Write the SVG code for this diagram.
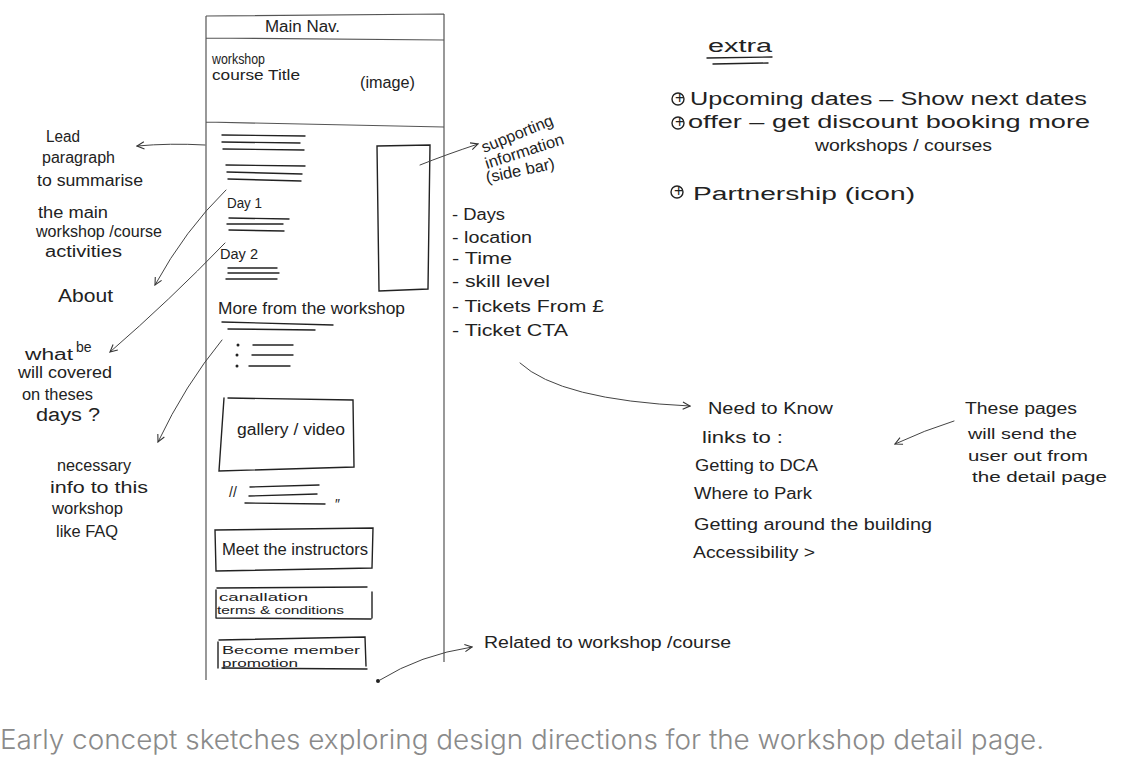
<svg xmlns="http://www.w3.org/2000/svg" width="1131" height="759" viewBox="0 0 1131 759">
<defs>
<style>
.h{font-family:"Liberation Sans","DejaVu Sans",sans-serif;font-size:16px;fill:#222}
.s{font-size:14px}
.t{font-size:11.5px}
.b{font-size:18px}
.ln{fill:none;stroke:#222;stroke-width:1.4;stroke-linecap:round}
.fr{fill:none;stroke:#555;stroke-width:1.2}
.ar{fill:none;stroke:#444;stroke-width:1;stroke-linecap:round}
.cap{font-family:Inter,"Liberation Sans",sans-serif;font-weight:300;font-size:27px;fill:#8a8a8a}
</style>
<marker id="ah" viewBox="0 0 10 10" refX="9" refY="5" markerWidth="9" markerHeight="9" orient="auto" markerUnits="userSpaceOnUse">
<path d="M1 1 L9 5 L1 9" fill="none" stroke="#333" stroke-width="1.2"/>
</marker>
</defs>
<rect width="1131" height="759" fill="#fff"/>

<g id="page">
<path class="fr" d="M206 16 L206 680 M444 14 L444 662 M206 16 L444 14 M206 38 L444 40 M206 122 L444 127"/>
<text class="h" x="265" y="32" textLength="75" lengthAdjust="spacingAndGlyphs">Main Nav.</text>
</g>

<g id="hero">
<text class="h s" x="212" y="64" textLength="53" lengthAdjust="spacingAndGlyphs">workshop</text>
<text class="h s" x="212" y="80" textLength="88" lengthAdjust="spacingAndGlyphs">course Title</text>
<text class="h" x="360" y="88" textLength="55" lengthAdjust="spacingAndGlyphs">(image)</text>
</g>

<g id="lead">
<path class="ln" d="M222 135 L305 136 M222 142 L300 143 M223 149 L304 150 M226 165 L305 166 M227 172 L302 174 M228 179 L301 181"/>
</g>

<g id="sidebar">
<path class="ln" d="M377 146 L430 145 L428 289 L379 291 Z"/>
</g>

<g id="day1">
<text class="h s" x="227" y="208" textLength="35" lengthAdjust="spacingAndGlyphs">Day 1</text>
<path class="ln" d="M229 218 L289 219 M227 224 L283 224 M229 230 L284 231"/>
</g>

<g id="day2">
<text class="h s" x="220" y="259" textLength="38" lengthAdjust="spacingAndGlyphs">Day 2</text>
<path class="ln" d="M228 268 L277 268 M228 273 L279 273 M226 279 L277 279"/>
</g>

<g id="more">
<text class="h" x="218" y="314" textLength="187" lengthAdjust="spacingAndGlyphs">More from the workshop</text>
<path class="ln" d="M222 322 L333 325 M228 329 L315 330"/>
<circle cx="238" cy="345" r="1.5" fill="#222"/>
<circle cx="237" cy="355" r="1.5" fill="#222"/>
<circle cx="237" cy="366" r="1.5" fill="#222"/>
<path class="ln" d="M253 345 L293 345 M252 355 L293 355 M249 366 L290 366"/>
</g>

<g id="gallery">
<path class="ln" d="M228 398 L353 400 L354 467 L219 471 L224 398"/>
<text class="h" x="237" y="435" textLength="108" lengthAdjust="spacingAndGlyphs">gallery / video</text>
</g>

<g id="quote">
<text class="h s" x="229" y="497">//</text>
<path class="ln" d="M250 487 L319 485 M249 496 L317 494 M245 503 L325 504"/>
<text class="h s" x="335" y="509">″</text>
</g>

<g id="instructors">
<path class="ln" d="M215 530 L373 528 L372 568 L216 571 Z"/>
<text class="h" x="222" y="555" textLength="146" lengthAdjust="spacingAndGlyphs">Meet the instructors</text>
</g>

<g id="cancellation">
<path class="ln" d="M217 588 L367 587 M372 592 L372 618 M216 618 L371 619 M216 590 L216 618"/>
<text class="h t" x="219" y="601" textLength="89" lengthAdjust="spacingAndGlyphs">canallation</text>
<text class="h t" x="217" y="614" textLength="127" lengthAdjust="spacingAndGlyphs">terms &amp; conditions</text>
</g>

<g id="member">
<path class="ln" d="M219 640 L365 637 L366 666 M218 642 L218 668 M222 668 L367 669"/>
<text class="h t" x="222" y="654" textLength="138" lengthAdjust="spacingAndGlyphs">Become member</text>
<text class="h t" x="222" y="667" textLength="76" lengthAdjust="spacingAndGlyphs">promotion</text>
<circle cx="378" cy="681" r="2" fill="#222"/>
</g>

<g id="notes-left">
<text class="h" x="46" y="142" textLength="34" lengthAdjust="spacingAndGlyphs">Lead</text>
<text class="h" x="42" y="163" textLength="73" lengthAdjust="spacingAndGlyphs">paragraph</text>
<text class="h" x="37" y="186" textLength="106" lengthAdjust="spacingAndGlyphs">to summarise</text>
<text class="h" x="38" y="218" textLength="70" lengthAdjust="spacingAndGlyphs">the main</text>
<text class="h" x="36" y="237" textLength="126" lengthAdjust="spacingAndGlyphs">workshop /course</text>
<text class="h" x="45" y="257" textLength="77" lengthAdjust="spacingAndGlyphs">activities</text>
<text class="h b" x="58" y="302" textLength="55" lengthAdjust="spacingAndGlyphs">About</text>
<text class="h" x="25" y="360" textLength="48" lengthAdjust="spacingAndGlyphs">what</text>
<text class="h s" x="76" y="352">be</text>
<text class="h" x="18" y="378" textLength="94" lengthAdjust="spacingAndGlyphs">will covered</text>
<text class="h" x="22" y="400" textLength="71" lengthAdjust="spacingAndGlyphs">on theses</text>
<text class="h b" x="36" y="421" textLength="64" lengthAdjust="spacingAndGlyphs">days ?</text>
<text class="h" x="57" y="471" textLength="74" lengthAdjust="spacingAndGlyphs">necessary</text>
<text class="h" x="50" y="493" textLength="98" lengthAdjust="spacingAndGlyphs">info to this</text>
<text class="h" x="52" y="514" textLength="71" lengthAdjust="spacingAndGlyphs">workshop</text>
<text class="h" x="56" y="537" textLength="62" lengthAdjust="spacingAndGlyphs">like FAQ</text>
</g>

<g id="notes-side">
<text class="h" transform="translate(484 153) rotate(-22)" textLength="76" lengthAdjust="spacingAndGlyphs">supporting</text>
<text class="h" transform="translate(487 169) rotate(-18)" textLength="82" lengthAdjust="spacingAndGlyphs">information</text>
<text class="h" transform="translate(487 183) rotate(-12)" textLength="70" lengthAdjust="spacingAndGlyphs">(side bar)</text>
<text class="h" x="452" y="220" textLength="53" lengthAdjust="spacingAndGlyphs">- Days</text>
<text class="h" x="452" y="243" textLength="80" lengthAdjust="spacingAndGlyphs">- location</text>
<text class="h" x="452" y="264" textLength="60" lengthAdjust="spacingAndGlyphs">- Time</text>
<text class="h" x="452" y="287" textLength="98" lengthAdjust="spacingAndGlyphs">- skill level</text>
<text class="h" x="452" y="312" textLength="152" lengthAdjust="spacingAndGlyphs">- Tickets  From £</text>
<text class="h" x="452" y="336" textLength="116" lengthAdjust="spacingAndGlyphs">- Ticket  CTA</text>
</g>

<g id="extra">
<text class="h b" x="708" y="52" textLength="64" lengthAdjust="spacingAndGlyphs">extra</text>
<path class="ln" d="M707 58 L772 57 M713 64 L768 63"/>
<circle cx="678" cy="99" r="6" class="ln"/>
<text class="h" x="675" y="103" font-size="9">+</text>
<text class="h b" x="690" y="105" textLength="397" lengthAdjust="spacingAndGlyphs">Upcoming dates –  Show next dates</text>
<circle cx="678" cy="123" r="6" class="ln"/>
<text class="h" x="675" y="127" font-size="9">+</text>
<text class="h b" x="688" y="128" textLength="402" lengthAdjust="spacingAndGlyphs">offer –    get discount booking more</text>
<text class="h" x="815" y="151" textLength="177" lengthAdjust="spacingAndGlyphs">workshops / courses</text>
<circle cx="677" cy="192" r="6" class="ln"/>
<text class="h" x="674" y="196" font-size="9">+</text>
<text class="h b" x="693" y="200" textLength="222" lengthAdjust="spacingAndGlyphs">Partnership (icon)</text>
</g>

<g id="need-to-know">
<text class="h" x="708" y="414" textLength="125" lengthAdjust="spacingAndGlyphs">Need  to Know</text>
<text class="h" x="702" y="443" textLength="81" lengthAdjust="spacingAndGlyphs">links to :</text>
<text class="h" x="695" y="471" textLength="123" lengthAdjust="spacingAndGlyphs">Getting to DCA</text>
<text class="h" x="694" y="499" textLength="118" lengthAdjust="spacingAndGlyphs">Where to Park</text>
<text class="h" x="694" y="530" textLength="238" lengthAdjust="spacingAndGlyphs">Getting around the building</text>
<text class="h" x="693" y="558" textLength="122" lengthAdjust="spacingAndGlyphs">Accessibility &gt;</text>
</g>

<g id="these-pages">
<text class="h" x="965" y="414" textLength="112" lengthAdjust="spacingAndGlyphs">These pages</text>
<text class="h s" x="968" y="439" textLength="109" lengthAdjust="spacingAndGlyphs">will send the</text>
<text class="h s" x="968" y="461" textLength="120" lengthAdjust="spacingAndGlyphs">user out from</text>
<text class="h s" x="972" y="482" textLength="135" lengthAdjust="spacingAndGlyphs">the detail page</text>
</g>

<g id="related">
<text class="h" x="484" y="648" textLength="247" lengthAdjust="spacingAndGlyphs">Related  to  workshop /course</text>
</g>

<g id="connectors">
<path class="ar" marker-end="url(#ah)" d="M205 145 Q170 143 137 146"/>
<path class="ar" marker-end="url(#ah)" d="M226 190 Q185 230 155 285"/>
<path class="ar" marker-end="url(#ah)" d="M225 243 Q170 300 110 352"/>
<path class="ar" marker-end="url(#ah)" d="M222 340 Q185 385 158 442"/>
<path class="ar" marker-end="url(#ah)" d="M420 165 Q445 155 478 144"/>
<path class="ar" marker-end="url(#ah)" d="M520 363 Q560 400 690 406"/>
<path class="ar" marker-end="url(#ah)" d="M954 421 Q925 430 895 444"/>
<path class="ar" marker-end="url(#ah)" d="M380 680 Q420 655 472 647"/>
</g>

<text class="cap" x="0" y="749" textLength="1044" lengthAdjust="spacingAndGlyphs">Early concept sketches exploring design directions for the workshop detail page.</text>
</svg>
